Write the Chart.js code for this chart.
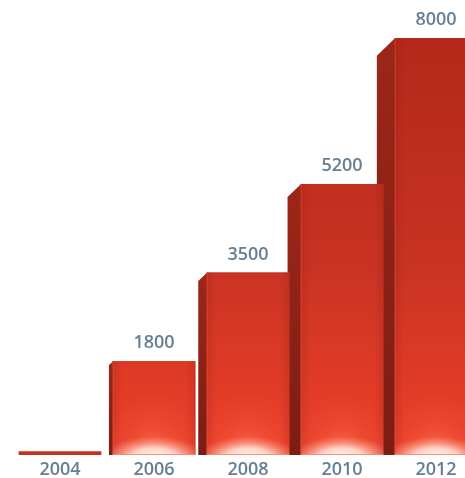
<!DOCTYPE html>
<html>
<head>
<meta charset="utf-8">
<script src="https://cdn.jsdelivr.net/npm/chart.js@4/dist/chart.umd.min.js"></script>
<style>
    html, body {
        margin: 0;
        padding: 0;
        background: #ffffff;
        overflow: hidden;
    }

    #chartBox {
        width: 483px;
        height: 478px;
    }
</style>
</head>
<body>
<div id="chartBox"><canvas id="myChart"></canvas></div>
<script>
// chart data
const years = ['2004', '2006', '2008', '2010', '2012'];
const values = [70, 1800, 3500, 5200, 8000];
const yMax = 8000;

const textColor = '#667e93';

// elliptical glow inside a bar, centred at (cx, cy)
const drawGlow = (chart, cx, cy, rx, ry, stops) => {
    const ctx = chart.ctx;
    ctx.save();
    ctx.translate(cx, cy);
    ctx.scale(1, ry / rx);
    const glow = ctx.createRadialGradient(0, 0, 0, 0, 0, rx);
    stops.forEach(s => glow.addColorStop(s[0], s[1]));
    ctx.fillStyle = glow;
    ctx.fillRect(-rx, -rx, rx * 2, rx * 2);
    ctx.restore();
};

// side faces drawn first, so the next bar's front covers them
const bars3d = {
    id: 'bars3d',
    beforeDatasetsDraw(chart) {
        const ctx = chart.ctx;
        const meta = chart.getDatasetMeta(0);

        meta.data.forEach(bar => {
            const p = bar.getProps(['x', 'y', 'base', 'width'], true);
            const left = p.x - p.width / 2;
            const d = Math.max(0, (p.x - 80) * 0.05);
            if (d < 1 || p.base - p.y < 10) return;

            const grad = ctx.createLinearGradient(0, p.y, 0, p.base);
            grad.addColorStop(0, '#9c2719');
            grad.addColorStop(1, '#7c1d13');

            ctx.save();
            ctx.beginPath();
            ctx.moveTo(left + 0.5, p.y);
            ctx.lineTo(left - d, p.y + d);
            ctx.lineTo(left - d, p.base);
            ctx.lineTo(left + 0.5, p.base);
            ctx.closePath();
            ctx.fillStyle = grad;
            ctx.fill();
            ctx.restore();
        });
    },

    afterDatasetsDraw(chart) {
        const ctx = chart.ctx;
        const meta = chart.getDatasetMeta(0);
        const area = chart.chartArea;

        meta.data.forEach((bar, i) => {
            const p = bar.getProps(['x', 'y', 'base', 'width'], true);
            const left = p.x - p.width / 2;
            const h = p.base - p.y;

            ctx.save();
            if (h >= 10) {
                // front face
                const grad = ctx.createLinearGradient(0, area.top, 0, area.bottom);
                grad.addColorStop(0, '#b3281a');
                grad.addColorStop(0.55, '#c93323');
                grad.addColorStop(0.85, '#e23c27');
                grad.addColorStop(1, '#ec4430');
                ctx.fillStyle = grad;
                ctx.fillRect(left, p.y, p.width, h);

                // darker side edges
                const edge = ctx.createLinearGradient(left, 0, left + p.width, 0);
                edge.addColorStop(0, 'rgba(140,28,18,0.22)');
                edge.addColorStop(0.12, 'rgba(140,28,18,0)');
                edge.addColorStop(0.88, 'rgba(140,28,18,0)');
                edge.addColorStop(1, 'rgba(140,28,18,0.22)');
                ctx.fillStyle = edge;
                ctx.fillRect(left, p.y, p.width, h);

                // glow at the bottom
                ctx.beginPath();
                ctx.rect(left, p.y, p.width, h);
                ctx.clip();
                drawGlow(chart, p.x, p.base + 6, p.width * 0.6, 70, [
                    [0, 'rgba(255,150,120,0.75)'],
                    [0.5, 'rgba(250,90,60,0.35)'],
                    [1, 'rgba(240,70,50,0)']
                ]);
                drawGlow(chart, p.x, p.base + 3, p.width * 0.62, 22, [
                    [0, 'rgba(255,248,244,1)'],
                    [0.45, 'rgba(255,222,210,0.9)'],
                    [1, 'rgba(252,150,126,0)']
                ]);

                // edges
                ctx.fillStyle = 'rgba(236,140,120,0.9)';
                ctx.fillRect(left, p.base - 1, p.width, 1);
                ctx.fillStyle = 'rgba(230,90,66,0.5)';
                ctx.fillRect(left, p.y, 1, h);
            }
            ctx.restore();

            // value label
            if (values[i] >= 500) {
                ctx.save();
                ctx.font = '600 18px "Open Sans"';
                ctx.fillStyle = textColor;
                ctx.textAlign = 'center';
                ctx.textBaseline = 'middle';
                ctx.fillText(values[i], p.x, p.y - 18);
                ctx.restore();
            }
        });
    }
};

window.onload = function () {
    const chart = new Chart('myChart', {
        type: 'bar',
        data: {
            labels: years,
            datasets: [{
                data: values,
                backgroundColor: '#c6301e',
                borderWidth: 0,
                categoryPercentage: 1,
                barPercentage: 0.88
            }]
        },
        options: {
            responsive: true,
            maintainAspectRatio: false,
            animation: false,
            layout: {
                padding: { top: 38, left: 13, right: 0, bottom: 0 }
            },
            plugins: {
                legend: { display: false },
                tooltip: { enabled: false }
            },
            scales: {
                x: {
                    grid: { display: false, drawTicks: false },
                    border: { display: false },
                    ticks: {
                        color: textColor,
                        padding: 4,
                        font: { family: 'Open Sans', size: 18, weight: '600' }
                    },
                    afterFit(scale) {
                        scale.height = 23;
                    }
                },
                y: {
                    display: false,
                    min: 0,
                    max: yMax
                }
            }
        },
        plugins: [bars3d]
    });
};
</script>
</body>
</html>
